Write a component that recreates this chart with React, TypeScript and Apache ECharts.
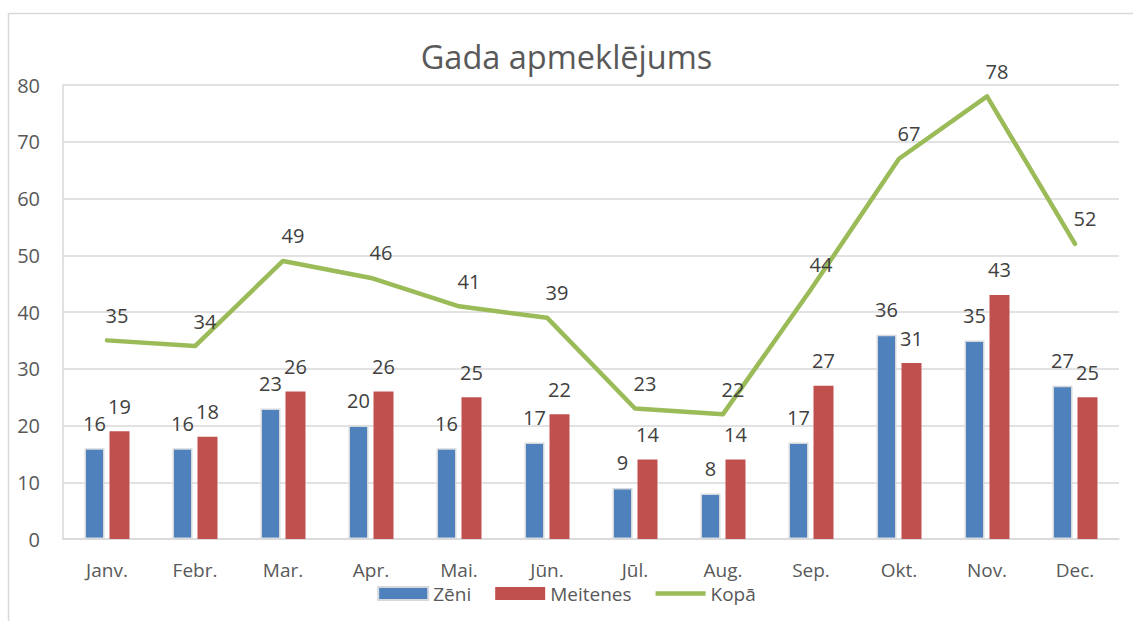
import React, { useEffect, useRef } from "react";
import * as echarts from "echarts";

const categories = ["Janv.", "Febr.", "Mar.", "Apr.", "Mai.", "Jūn.", "Jūl.", "Aug.", "Sep.", "Okt.", "Nov.", "Dec."];
const zeni = [16, 16, 23, 20, 16, 17, 9, 8, 17, 36, 35, 27];
const meitenes = [19, 18, 26, 26, 25, 22, 14, 14, 27, 31, 43, 25];
const kopa = [35, 34, 49, 46, 41, 39, 23, 22, 44, 67, 78, 52];

const FONT = "'Open Sans', 'Noto Sans', sans-serif";

export default function App() {
  const ref = useRef<HTMLDivElement>(null);
  useEffect(() => {
    document.body.style.margin = "0";
    const chart = echarts.init(ref.current!, undefined, { renderer: "svg" });
    const labelStyle = { show: true, position: "top", distance: 15, color: "#404040", fontSize: 20, lineHeight: 20, fontFamily: FONT };
    chart.setOption({
      animation: false,
      backgroundColor: "#ffffff",
      textStyle: { fontFamily: FONT },
      graphic: [
        {
          type: "rect",
          shape: { x: 8.5, y: 13.5, width: 1140, height: 620 },
          style: { fill: "none", stroke: "#d9d9d9", lineWidth: 1.5 },
          silent: true,
        },
      ],
      title: {
        text: "Gada apmeklējums",
        left: "center",
        top: 35,
        textStyle: { color: "#595959", fontSize: 32.5, fontWeight: "normal", fontFamily: FONT },
      },
      legend: {
        bottom: 13,
        left: "center",
        itemGap: 24,
        itemWidth: 50,
        itemHeight: 13,
        textStyle: { color: "#595959", fontSize: 19, lineHeight: 16, fontFamily: FONT },
        data: [
          { name: "Zēni", icon: "rect" },
          { name: "Meitenes", icon: "rect" },
          { name: "Kopā", icon: "path://M0,0 L50,0 L50,4.5 L0,4.5 Z" },
        ],
      },
      grid: { left: 63, right: 14, top: 85, bottom: 82, containLabel: false },
      xAxis: {
        type: "category",
        data: categories,
        axisLine: { show: true, lineStyle: { color: "#d9d9d9", width: 1.5 } },
        axisTick: { show: false },
        axisLabel: { color: "#595959", fontSize: 19, lineHeight: 16, margin: 23, fontFamily: FONT },
      },
      yAxis: {
        type: "value",
        min: 0,
        max: 80,
        interval: 10,
        axisLine: { show: true, lineStyle: { color: "#d9d9d9", width: 1.5 } },
        axisTick: { show: false },
        splitLine: { show: true, lineStyle: { color: "#d9d9d9", width: 1.5 } },
        axisLabel: { color: "#595959", fontSize: 20, margin: 23, fontFamily: FONT },
      },
      series: [
        {
          name: "Zēni",
          type: "bar",
          data: zeni,
          barWidth: 20,
          barGap: "25%",
          itemStyle: { color: "#4f81bd", borderColor: "#d5d9de", borderWidth: 1.5 },
          label: labelStyle,
        },
        {
          name: "Meitenes",
          type: "bar",
          data: meitenes,
          barWidth: 20,
          barGap: "25%",
          itemStyle: { color: "#c0504d" },
          label: labelStyle,
        },
        {
          name: "Kopā",
          type: "line",
          data: kopa,
          symbol: "circle",
          symbolSize: 0.1,
          showSymbol: true,
          lineStyle: { color: "#9bbb59", width: 4.5, cap: "round", join: "round" },
          itemStyle: { color: "#9bbb59" },
          label: { ...labelStyle, distance: 15, offset: [10, 0] },
          z: 5,
        },
      ],
    });
    return () => chart.dispose();
  }, []);
  return <div ref={ref} style={{ width: 1133, height: 621 }} />;
}
